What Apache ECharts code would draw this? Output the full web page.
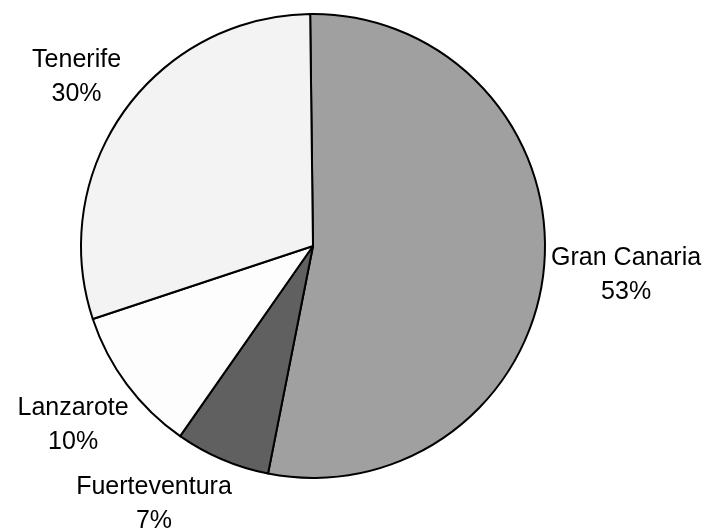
<!DOCTYPE html>
<html>
<head>
<meta charset="utf-8">
<script src="https://cdn.jsdelivr.net/npm/echarts@6/dist/echarts.min.js"></script>
<style>
  html, body { margin: 0; padding: 0; background: #fff; }
  #chart { width: 707px; height: 530px; }
</style>
</head>
<body>
<div id="chart"></div>
<script>
// islands and their share (clockwise from 12 o'clock)
var islands = ['Gran Canaria', 'Fuerteventura', 'Lanzarote', 'Tenerife'];
var shares = [53.3, 6.6, 10.2, 29.9];
var sliceColors = ['#a0a0a0', '#606060', '#fdfdfd', '#f3f3f3'];

var CX = 313, CY = 246, R = 232;
var START = 90.7;        // degrees, echarts convention
var LABEL_GAP = 5;
var LABEL_MAX_Y = 504;   // keep label centres above this (slide along rim)

var chart = echarts.init(document.getElementById('chart'));

var pieData = islands.map(function (name, i) {
  return { name: name, value: shares[i], itemStyle: { color: sliceColors[i] } };
});

// slice angle ranges (radians, clockwise from top)
var total = shares.reduce(function (a, b) { return a + b; }, 0);
var offset = (90 - START) * Math.PI / 180;
var ranges = [];
var acc = 0;
shares.forEach(function (v) {
  var a0 = offset + acc / total * Math.PI * 2;
  acc += v;
  ranges.push([a0, offset + acc / total * Math.PI * 2]);
});

function placeLabel(a, w, h) {
  var sx = Math.sin(a), cy = -Math.cos(a);
  var d = R + LABEL_GAP + Math.abs(sx) * w + Math.abs(cy) * h;
  return { x: CX + sx * d, y: CY + cy * d };
}

var option = {
  animation: false,
  series: [
    {
      type: 'pie',
      center: [CX, CY],
      radius: R,
      startAngle: START,
      clockwise: true,
      itemStyle: {
        borderColor: '#000',
        borderWidth: 2
      },
      label: {
        show: true,
        position: 'outside',
        overflow: 'none',
        formatter: function (p) {
          return '{t|' + p.name + '}\n{t|' + Math.round(p.percent) + '%}';
        },
        rich: {
          t: {
            align: 'center',
            fontFamily: 'Liberation Sans, Arial, sans-serif',
            fontSize: 25,
            lineHeight: 34,
            color: '#000'
          }
        }
      },
      labelLine: { show: false },
      // label box just outside the rim on the slice's mid ray,
      // slid along its slice if it would drop too low
      labelLayout: function (params) {
        var r = ranges[params.dataIndex];
        var w = params.labelRect.width / 2, h = params.labelRect.height / 2;
        var a = (r[0] + r[1]) / 2;
        var dir = a > Math.PI ? 1 : -1;
        var pos = placeLabel(a, w, h);
        var n = 0;
        while (pos.y > LABEL_MAX_Y && a > r[0] && a < r[1] && n < 2000) {
          a += dir * 0.002;
          pos = placeLabel(a, w, h);
          n++;
        }
        return {
          x: pos.x,
          y: pos.y,
          align: 'center',
          verticalAlign: 'middle'
        };
      },
      emphasis: { disabled: true },
      data: pieData
    }
  ]
};
chart.setOption(option);
</script>
</body>
</html>
